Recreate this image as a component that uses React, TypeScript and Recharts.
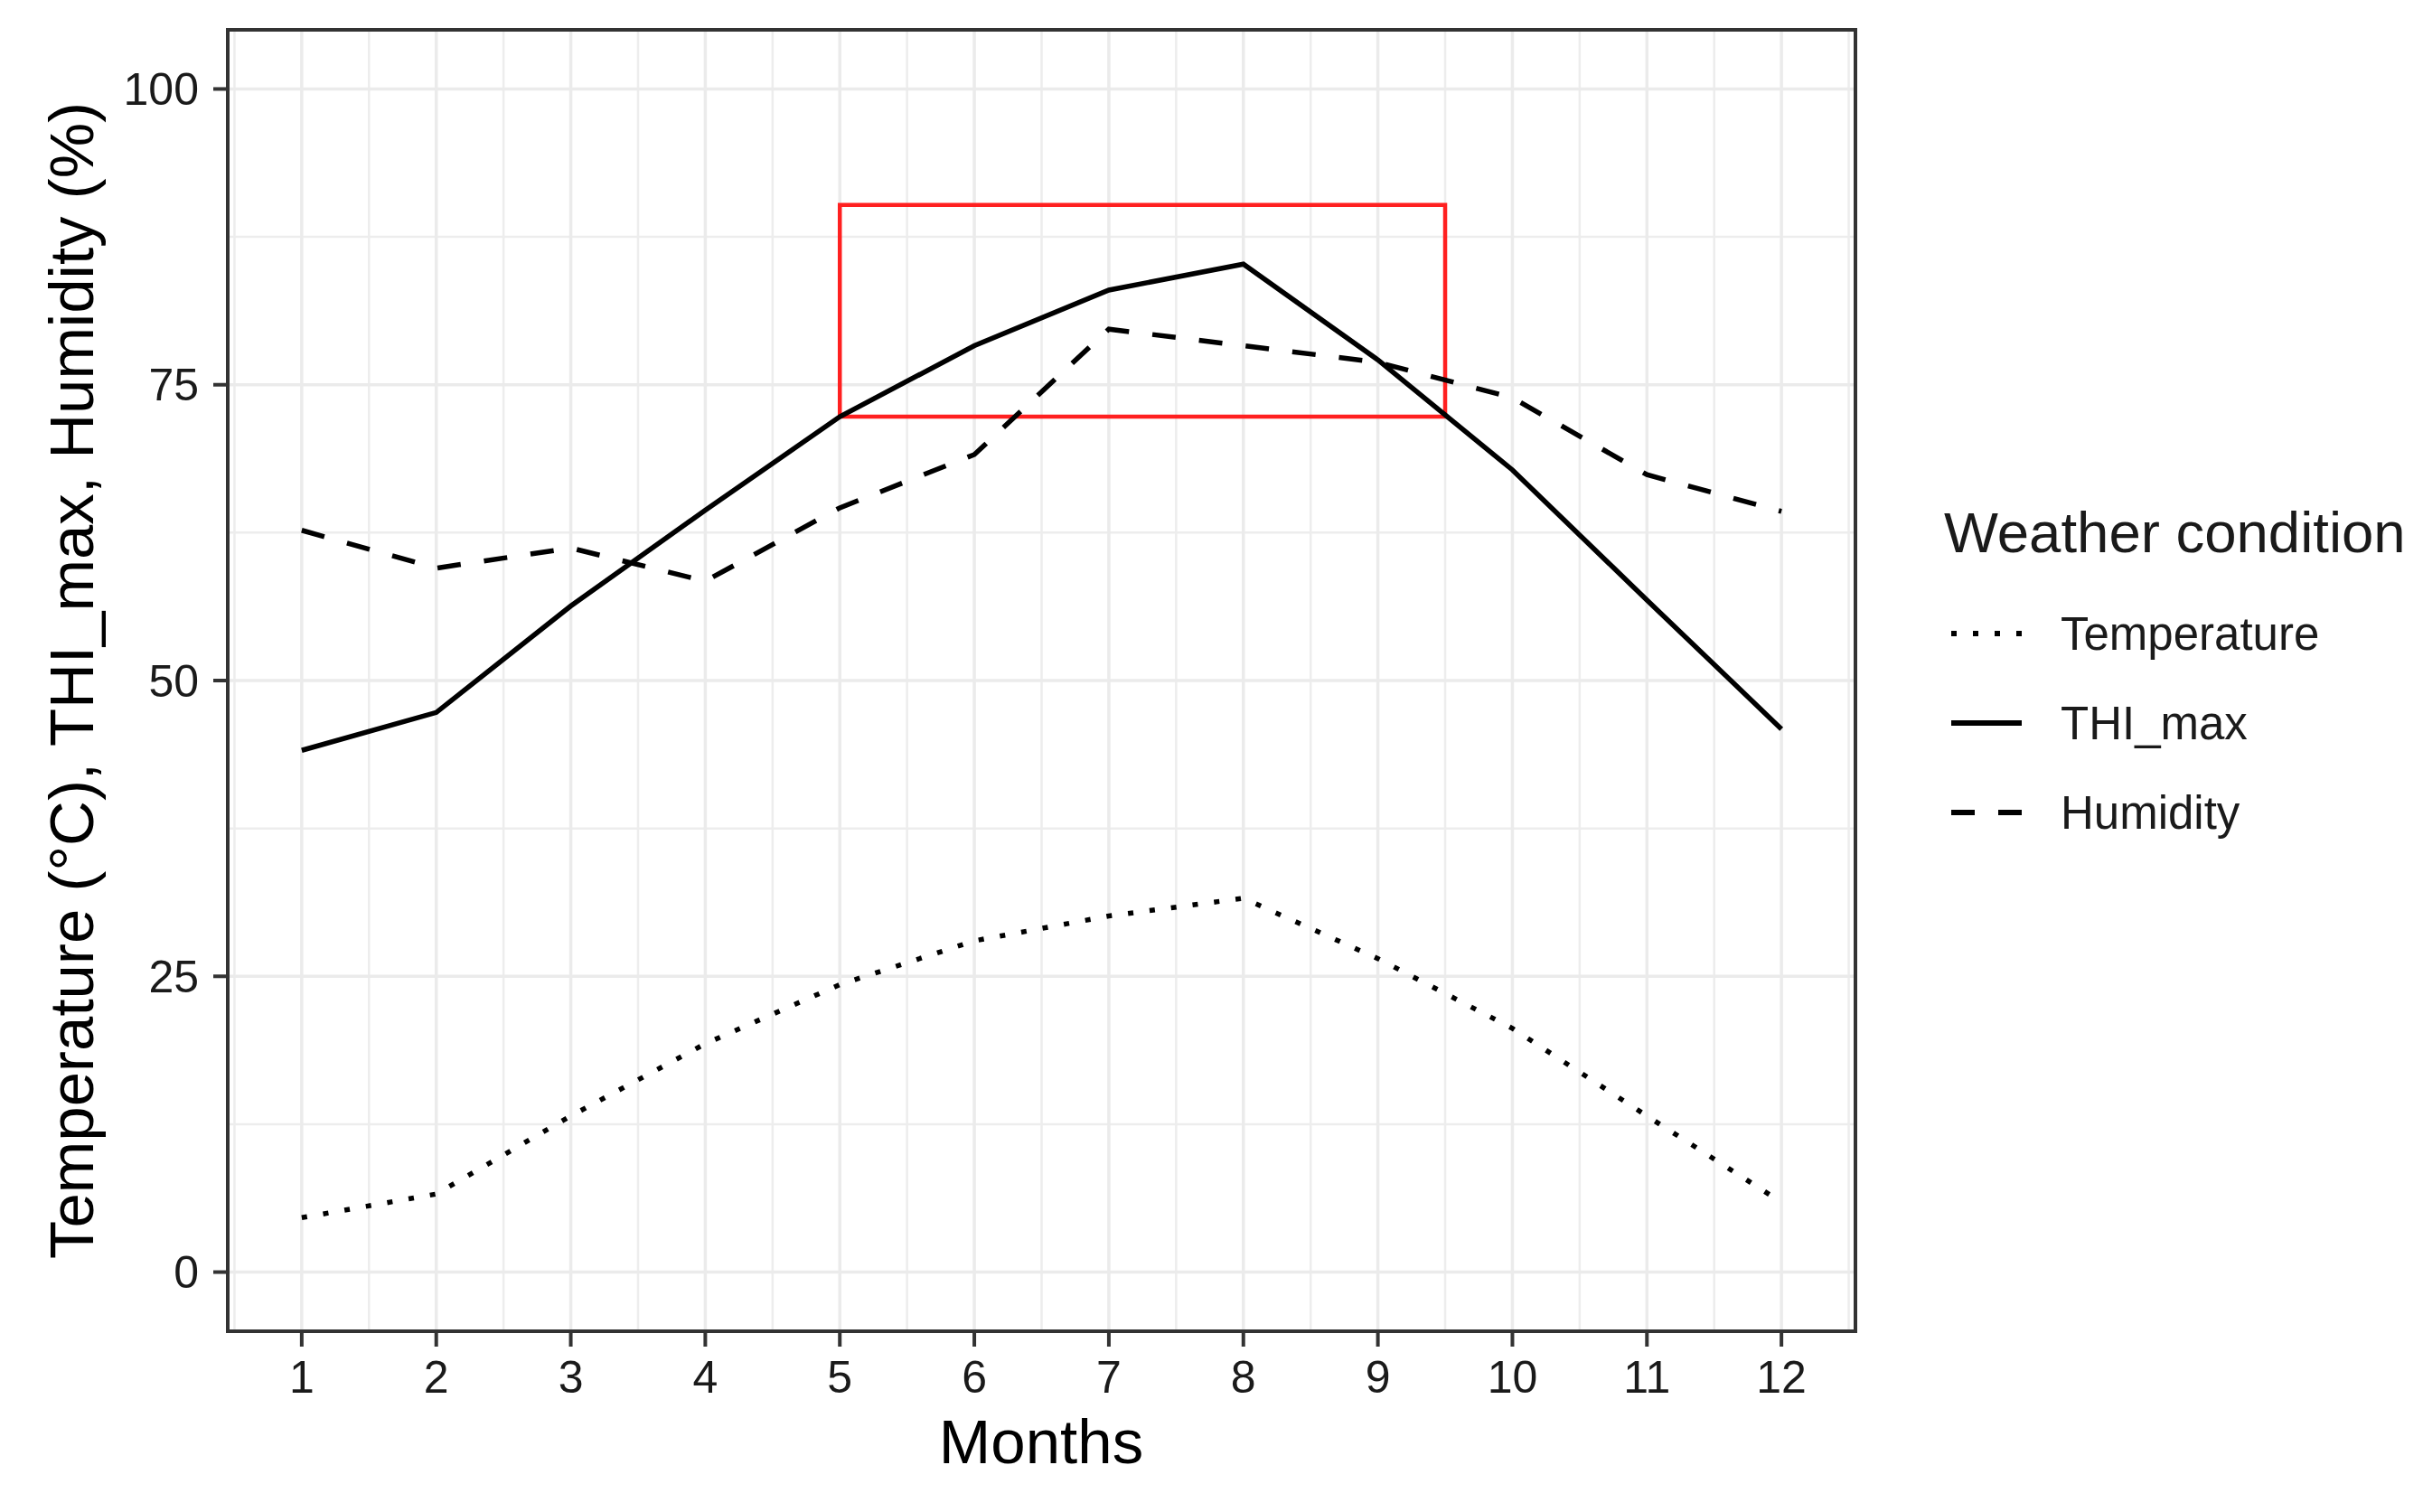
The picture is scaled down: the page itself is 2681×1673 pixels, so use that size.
import {
  CartesianGrid,
  Legend,
  Line,
  LineChart,
  ReferenceArea,
  XAxis,
  YAxis,
} from "recharts";

const months = [1, 2, 3, 4, 5, 6, 7, 8, 9, 10, 11, 12];
const temperature = [4.6, 6.6, 13.2, 19.3, 24.3, 28.0, 30.1, 31.6, 26.5, 20.6, 13.2, 5.9];
const thiMax = [44.1, 47.3, 56.3, 64.4, 72.3, 78.3, 83.0, 85.2, 77.1, 67.8, 56.8, 45.9];
const humidity = [62.7, 59.5, 61.2, 58.4, 64.6, 69.1, 79.7, 78.3, 76.9, 73.9, 67.4, 64.3];

const yTicks = [0, 25, 50, 75, 100];
const yMinor = [12.5, 37.5, 62.5, 87.5];
const xMinor = [0.5, 1.5, 2.5, 3.5, 4.5, 5.5, 6.5, 7.5, 8.5, 9.5, 10.5, 11.5, 12.5];

// highlighted window (months 5 to 9.5)
const boxX = [5, 9.5];
const boxY = [72.3, 90.2];

const series = [
  { key: "Temperature", dash: "6 18" },
  { key: "THI_max", dash: undefined },
  { key: "Humidity", dash: "26 26" },
];

const data = months.map((m, i) => ({
  month: m,
  Temperature: temperature[i],
  THI_max: thiMax[i],
  Humidity: humidity[i],
}));

const FONT = "'Liberation Sans', Arial, sans-serif";
const ink = "#1a1a1a";

function LegendBox() {
  return (
    <svg width={520} height={460} style={{ display: "block" }}>
      <text x={3} y={63} fontSize={63.5} fontFamily={FONT} fill={ink}>
        Weather condition
      </text>
      {series.map((s, i) => (
        <g key={s.key}>
          <line
            x1={11}
            x2={89}
            y1={153 + i * 99}
            y2={153 + i * 99}
            stroke="#000"
            strokeWidth={6}
            strokeDasharray={s.dash}
          />
          <text
            x={132}
            y={171 + i * 99}
            fontSize={51}
            fontFamily={FONT}
            fill={ink}
          >
            {s.key}
          </text>
        </g>
      ))}
    </svg>
  );
}

export default function App() {
  return (
    <LineChart
      width={2665}
      height={1657}
      data={data}
      margin={{ top: 25, right: 620, bottom: 0, left: 0 }}
      style={{ fontFamily: FONT }}
    >
      <CartesianGrid
        stroke="#EDEDED"
        strokeWidth={2.5}
        horizontalValues={yMinor}
        verticalValues={xMinor}
      />
      <CartesianGrid
        stroke="#EBEBEB"
        strokeWidth={3.5}
        horizontalValues={yTicks}
        verticalValues={months}
      />
      <XAxis
        type="number"
        dataKey="month"
        domain={[0.45, 12.55]}
        ticks={months}
        interval={0}
        allowDataOverflow
        height={192}
        tickSize={17}
        tickMargin={15}
        axisLine={false}
        tickLine={{ stroke: "#333", strokeWidth: 4 }}
        tick={{ fontSize: 50, fill: ink, fontFamily: FONT }}
        label={() => (
          <text
            x={1144}
            y={1611}
            textAnchor="middle"
            fontSize={69}
            fontFamily={FONT}
            fill="#000"
          >
            Months
          </text>
        )}
      />
      <YAxis
        type="number"
        domain={[-5, 105]}
        ticks={yTicks}
        allowDataOverflow
        width={244}
        tickSize={16}
        tickMargin={16}
        axisLine={false}
        tickLine={{ stroke: "#333", strokeWidth: 4 }}
        tick={{ fontSize: 50, fill: ink, fontFamily: FONT }}
        label={() => (
          <text
            x={95}
            y={745}
            transform="rotate(-90, 95, 745)"
            textAnchor="middle"
            fontSize={69}
            fontFamily={FONT}
            fill="#000"
          >
            Temperature (°C), THI_max, Humidity (%)
          </text>
        )}
      />
      {series.map((s) => (
        <Line
          key={s.key}
          type="linear"
          dataKey={s.key}
          stroke="#000"
          strokeWidth={5.5}
          strokeDasharray={s.dash}
          dot={false}
          activeDot={false}
          isAnimationActive={false}
        />
      ))}
      <ReferenceArea
        x1={boxX[0]}
        x2={boxX[1]}
        y1={boxY[0]}
        y2={boxY[1]}
        fill="none"
        stroke="#FF2020"
        strokeWidth={4.5}
      />
      <ReferenceArea
        x1={0.45}
        x2={12.55}
        y1={-5}
        y2={105}
        fill="none"
        stroke="#333"
        strokeWidth={4}
        ifOverflow="visible"
      />
      <Legend
        layout="horizontal"
        align="center"
        verticalAlign="middle"
        wrapperStyle={{ left: 2140, top: 540, width: 520, height: 460 }}
        content={() => <LegendBox />}
      />
    </LineChart>
  );
}
